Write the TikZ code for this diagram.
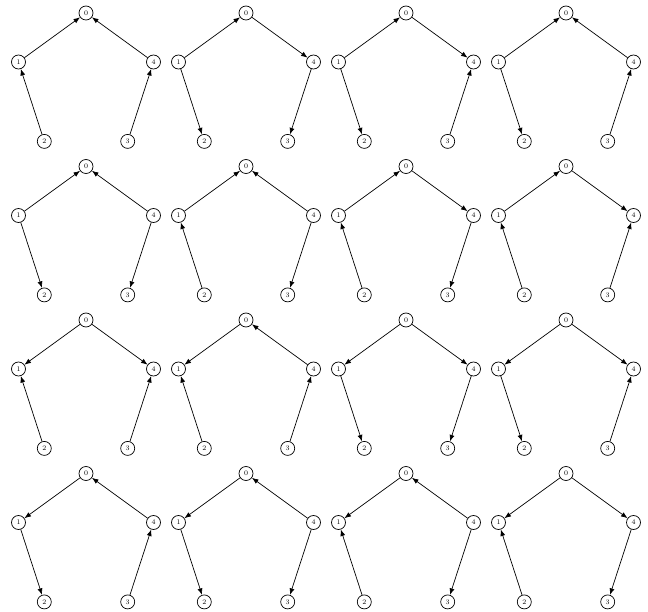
\documentclass[tikz,border=0pt]{standalone}
\usetikzlibrary{arrows.meta}
\begin{document}
\begin{tikzpicture}[x=1pt,y=-1pt,
  vtx/.style={circle,draw,line width=0.7pt,minimum size=14pt,inner sep=0pt,font=\fontsize{7}{8}\selectfont},
  arc/.style={line width=0.7pt,-{Latex[length=6.5pt,width=5pt]}}]
\useasboundingbox (0,0) rectangle (648,612);
\foreach \k/\c/\r/\as/\at/\bs/\bt/\cs/\ct/\ds/\dt in {
 1/0/0/1/0/4/0/2/1/3/4,
 2/1/0/1/0/0/4/1/2/4/3,
 3/2/0/1/0/0/4/1/2/3/4,
 4/3/0/1/0/4/0/1/2/3/4,
 5/0/1/1/0/4/0/1/2/4/3,
 6/1/1/1/0/4/0/2/1/4/3,
 7/2/1/1/0/0/4/2/1/4/3,
 8/3/1/1/0/0/4/2/1/3/4,
 9/0/2/0/1/0/4/2/1/3/4,
 10/1/2/0/1/4/0/2/1/3/4,
 11/2/2/0/1/0/4/1/2/4/3,
 12/3/2/0/1/0/4/1/2/3/4,
 13/0/3/0/1/4/0/1/2/3/4,
 14/1/3/0/1/4/0/1/2/4/3,
 15/2/3/0/1/4/0/2/1/4/3,
 16/3/3/0/1/0/4/2/1/4/3}{
 \begin{scope}[shift={(\c*160,\r*153.5)}]
  \node[vtx] (g\k-0) at (86,13) {0};
  \node[vtx] (g\k-1) at (18.5,62) {1};
  \node[vtx] (g\k-4) at (153.5,62) {4};
  \node[vtx] (g\k-2) at (44.3,141.4) {2};
  \node[vtx] (g\k-3) at (127.7,141.4) {3};
  \draw[arc] (g\k-\as) -- (g\k-\at);
  \draw[arc] (g\k-\bs) -- (g\k-\bt);
  \draw[arc] (g\k-\cs) -- (g\k-\ct);
  \draw[arc] (g\k-\ds) -- (g\k-\dt);
 \end{scope}
}
\end{tikzpicture}
\end{document}
